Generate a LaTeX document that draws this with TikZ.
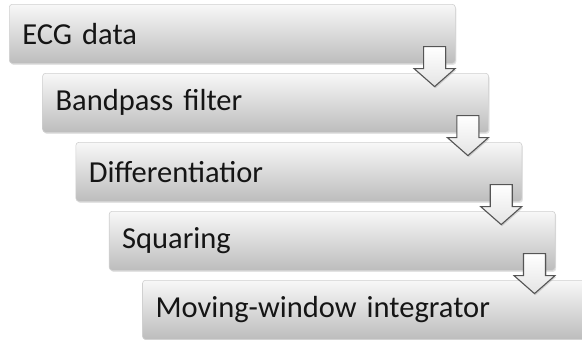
\documentclass[tikz,border=0pt]{standalone}
\usepackage{fontspec}
\setmainfont{Carlito}
\usetikzlibrary{calc,shadows}
\definecolor{boxtop}{HTML}{F8F8F8}
\definecolor{boxmid}{HTML}{E2E2E2}
\definecolor{boxbot}{HTML}{BDBDBD}
\definecolor{boxedge}{HTML}{D0D0D0}
\definecolor{arrowedge}{HTML}{555555}
\definecolor{arrowbot}{HTML}{E4E4E4}
\definecolor{txt}{HTML}{151515}
\tikzset{
  stepbox/.style={anchor=north west, minimum width=446pt, minimum height=59pt,
    rounded corners=3pt, draw=boxedge, line width=0.6pt,
    top color=boxtop, middle color=boxmid, bottom color=boxbot,
    drop shadow={opacity=0.22, shadow xshift=1pt, shadow yshift=-1.5pt},
    text=txt, font=\fontsize{30.5}{36}\selectfont, align=left,
    text width=420pt, inner xsep=13pt, inner ysep=0pt},
  downarrow/.style={draw=arrowedge, line width=1.1pt, line join=miter,
    top color=white, bottom color=arrowbot,
    drop shadow={opacity=0.3, shadow xshift=1pt, shadow yshift=-1.5pt}}
}
\begin{document}
\begin{tikzpicture}[x=1pt,y=-1pt]
\useasboundingbox (0,0) rectangle (582,340);
\node[stepbox] (b1) at (9,4) {ECG data};
\node[stepbox] (b2) at (42.3,73) {Bandpass filter};
\node[stepbox] (b3) at (75.6,142) {Differentiatior};
\node[stepbox] (b4) at (108.9,211) {Squaring};
\node[stepbox] (b5) at (142.2,280) {Moving-window integrator};
\foreach \a/\b in {b1/b2,b2/b3,b3/b4,b4/b5}{
  \draw[downarrow] ($(\a.south east)+(-21,23)$) coordinate (tip\a)
    -- ++(-20.5,-18) -- ++(9.5,0) -- ++(0,-22) -- ++(22,0) -- ++(0,22) -- ++(9.5,0) -- cycle;
}
\end{tikzpicture}
\end{document}
